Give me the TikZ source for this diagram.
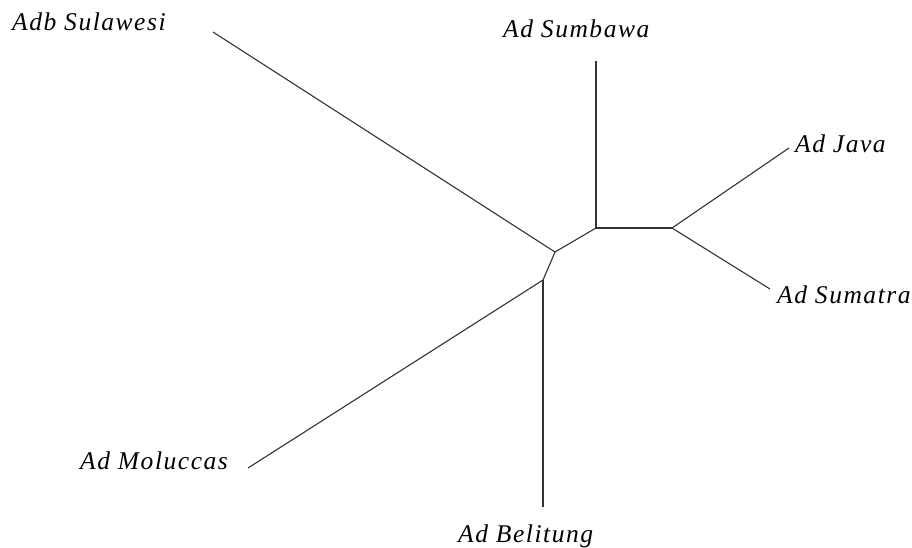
\documentclass[tikz,border=0pt]{standalone}
\usepackage{fontspec}
\setmainfont{Liberation Serif}
\newfontfamily\labfont{Liberation Serif}[LetterSpace=6]
\begin{document}
\begin{tikzpicture}[x=1pt,y=1pt,
  branch/.style={line width=1.1pt, draw=black!80},
  taxon/.style={anchor=base west, inner sep=0pt, font=\labfont\itshape\fontsize{25.5}{28}\selectfont}]
\useasboundingbox (0,0) rectangle (912,-547);
% internal nodes
\coordinate (A) at (596,-228);
\coordinate (B) at (672,-228);
\coordinate (C) at (555,-252);
\coordinate (D) at (543,-280);
% leaf ends
\coordinate (sulE) at (213,-32);
\coordinate (sumbE) at (596,-61);
\coordinate (javE) at (789,-148);
\coordinate (sumaE) at (770,-289);
\coordinate (molE) at (248,-468);
\coordinate (belE) at (543,-507);
% branches
\draw[branch] (sulE) -- (C);
\draw[branch] (C) -- (A);
\draw[branch] (C) -- (D);
\draw[branch] (A) -- (sumbE);
\draw[branch] (A) -- (B);
\draw[branch] (B) -- (javE);
\draw[branch] (B) -- (sumaE);
\draw[branch] (D) -- (molE);
\draw[branch] (D) -- (belE);
% labels
\node[taxon] (sul) at (12,-30) {Adb Sulawesi};
\node[taxon] (sumb) at (503,-37) {Ad Sumbawa};
\node[taxon] (jav) at (795,-152) {Ad Java};
\node[taxon] (suma) at (777,-303) {Ad Sumatra};
\node[taxon] (mol) at (80,-469) {Ad Moluccas};
\node[taxon] (bel) at (458,-542) {Ad Belitung};
\end{tikzpicture}
\end{document}
